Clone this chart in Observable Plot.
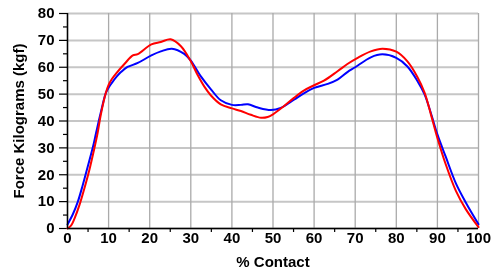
<!DOCTYPE html>
<html>
<head>
<meta charset="utf-8">
<script src="https://cdn.jsdelivr.net/npm/d3@7"></script>
<script src="https://cdn.jsdelivr.net/npm/@observablehq/plot@0.6"></script>
<style>
  html, body { margin: 0; padding: 0; background: #fff; }
  svg { will-change: transform; }
</style>
</head>
<body>
<div id="chart"></div>
<script>
const pctBlue = [0, 1.3, 2.5, 3.7, 4.9, 6.2, 7.0, 8.1, 9.3, 10, 10.8, 12, 13, 14.6, 17.1, 20.4, 22.7, 25.4, 28.4, 30, 32.4, 34.9, 37.3, 40, 42.2, 43.9, 46.3, 49.5, 51.9, 55.1, 57.6, 60, 63.3, 65.7, 68.1, 70, 73.8, 76.6, 80, 82.7, 85.1, 86.9, 88.5, 90, 92, 94.5, 96.9, 100];
const forceBlue = [1.5, 5.3, 9.9, 16.1, 22.9, 30.4, 35.9, 43.2, 50.3, 52.4, 54.2, 56.6, 58.2, 60.1, 61.6, 64.4, 65.9, 66.9, 65, 62.5, 56.7, 51.8, 47.7, 46, 46, 46.2, 45, 44.1, 44.9, 47.9, 50.4, 52.3, 53.8, 55.4, 58.2, 60, 63.7, 64.8, 63.5, 60.3, 55, 49.8, 42.5, 35, 26.8, 16.8, 9.7, 1.6];
const pctRed = [0, 0.9, 1.7, 2.9, 4.1, 5.3, 6.5, 7.3, 8.1, 9.3, 10, 10.8, 11.9, 13.9, 15.9, 17.1, 20.4, 22.7, 25.1, 27.6, 30, 31.6, 33.3, 34.9, 37.3, 40, 42.2, 44.6, 47.1, 48.7, 50, 52.7, 55.1, 57.6, 60, 62.4, 65.7, 68.1, 70.6, 73.8, 76.6, 80, 82.7, 85.1, 86.9, 88.5, 90, 92, 94.5, 96.9, 100];
const forceRed = [0, 1.2, 3.7, 8.7, 14.9, 21.7, 29.6, 35.3, 42.3, 50.3, 53.4, 55.6, 57.8, 61.3, 64.4, 64.9, 68.5, 69.4, 70.4, 67.8, 62.2, 57.3, 52.8, 49.5, 46.2, 44.7, 43.7, 42.3, 41.2, 41.5, 42.5, 45.6, 48.6, 51.4, 53.3, 55, 58.5, 61.2, 63.5, 65.9, 66.9, 65.8, 62.2, 56.5, 50.5, 42, 33.7, 24, 14, 7.2, 0.5];

const xTicks = [0, 10, 20, 30, 40, 50, 60, 70, 80, 90, 100];
const xMinor = [5, 15, 25, 35, 45, 55, 65, 75, 85, 95];
const yTicks = [0, 10, 20, 30, 40, 50, 60, 70, 80];
const yMinor = [5, 15, 25, 35, 45, 55, 65, 75];
const xLabel = "% Contact";
const yLabel = "Force Kilograms (kgf)";

const blue = pctBlue.map((p, i) => ({x: p, y: forceBlue[i]}));
const red = pctRed.map((p, i) => ({x: p, y: forceRed[i]}));

const chart = Plot.plot({
  width: 491,
  height: 273,
  marginLeft: 67,
  marginRight: 13,
  marginTop: 13,
  marginBottom: 45,
  style: {fontFamily: "'Liberation Sans', Arial, sans-serif", fontSize: "15px", fontWeight: "bold", color: "#000", background: "#fff"},
  x: {domain: [0, 100]},
  y: {domain: [0, 80]},
  marks: [
    Plot.ruleY(yTicks, {stroke: "#c6c6c6", strokeWidth: 2, strokeOpacity: 1}),
    Plot.ruleX(xTicks, {stroke: "#aaaaaa", strokeWidth: 1.3, strokeOpacity: 1}),
    Plot.axisY({ticks: yTicks, tickSize: 8, tickPadding: 5, tickFormat: d => d, label: yLabel, labelAnchor: "center", labelArrow: "none", labelOffset: 54, stroke: "#000", fill: "#000", strokeWidth: 1.2}),
    Plot.axisY({ticks: yMinor, tickSize: 4, text: null, label: null, stroke: "#000", strokeWidth: 1.2}),
    Plot.axisX({ticks: xTicks, tickSize: 0, tickPadding: 4, tickFormat: d => d, label: xLabel, labelAnchor: "center", labelArrow: "none", labelOffset: 38, fill: "#000"}),
    Plot.axisX({ticks: xMinor, tickSize: 4, text: null, label: null, stroke: "#000", strokeWidth: 1.2}),
    Plot.line(blue, {x: "x", y: "y", stroke: "#0000ff", strokeWidth: 2, curve: "catmull-rom"}),
    Plot.line(red, {x: "x", y: "y", stroke: "#ff0000", strokeWidth: 2, curve: "catmull-rom"}),
    Plot.ruleX([0], {stroke: "#000", strokeWidth: 1.5}),
    Plot.ruleY([0], {stroke: "#000", strokeWidth: 1.5})
  ]
});
document.getElementById("chart").appendChild(chart);
</script>
</body>
</html>
